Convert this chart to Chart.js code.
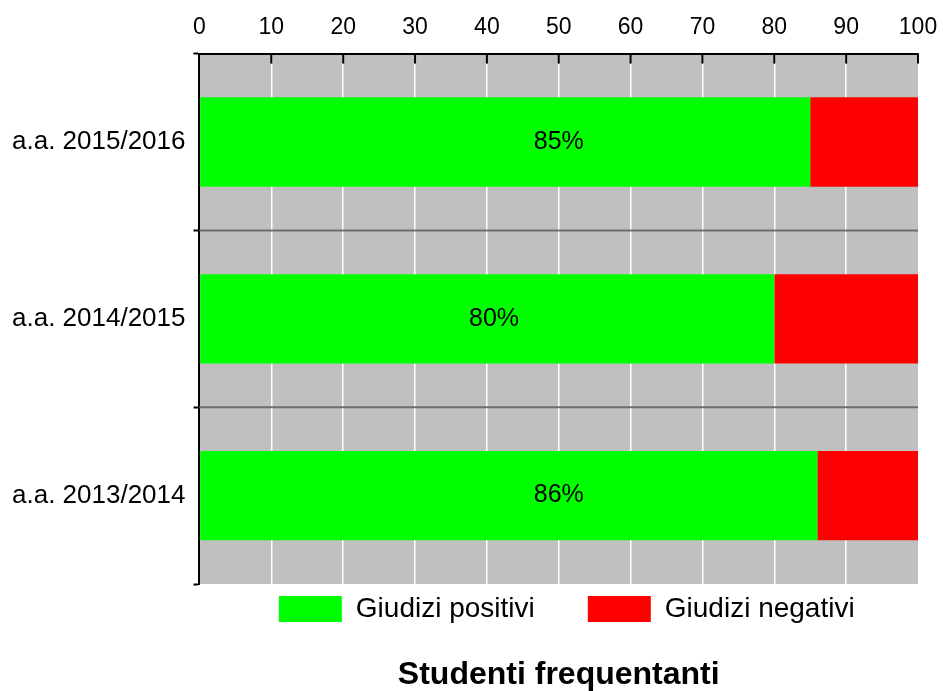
<!DOCTYPE html>
<html>
<head>
<meta charset="utf-8">
<script src="https://cdn.jsdelivr.net/npm/chart.js@4"></script>
<style>
  html, body { margin: 0; padding: 0; background: #ffffff; }
  #wrap { width: 943px; height: 691px; }
</style>
</head>
<body>
<div id="wrap"><canvas id="c"></canvas></div>
<script>
const categories = ['a.a. 2015/2016', 'a.a. 2014/2015', 'a.a. 2013/2014'];
const positivi = [85, 80, 86];
const negativi = [15, 20, 14];
const valueLabels = ['85%', '80%', '86%'];
const seriesNames = ['Giudizi positivi', 'Giudizi negativi'];
const titleText = 'Studenti frequentanti';

const FONT = "'Liberation Sans', Arial, Helvetica, sans-serif";

const plotDecor = {
  id: 'plotDecor',
  afterLayout(chart, args, opts) {
    if (chart.legend) {
      chart.legend.left += opts.legendShift;
      chart.legend.right += opts.legendShift;
    }
  },
  beforeDraw(chart) {
    const a = chart.chartArea, ctx = chart.ctx;
    ctx.save();
    ctx.fillStyle = '#c0c0c0';
    ctx.fillRect(a.left, a.top, a.right - a.left, a.bottom - a.top);
    ctx.restore();
  },
  beforeDatasetsDraw(chart) {
    const a = chart.chartArea, ctx = chart.ctx, y = chart.scales.y;
    ctx.save();
    ctx.strokeStyle = '#6e6e6e';
    ctx.lineWidth = 2;
    for (let i = 0; i < categories.length - 1; i++) {
      const py = (y.getPixelForValue(i) + y.getPixelForValue(i + 1)) / 2;
      ctx.beginPath();
      ctx.moveTo(a.left, py);
      ctx.lineTo(a.right, py);
      ctx.stroke();
    }
    ctx.restore();
  },
  afterDraw(chart, args, opts) {
    const a = chart.chartArea, ctx = chart.ctx, x = chart.scales.x, y = chart.scales.y;
    ctx.save();
    ctx.strokeStyle = '#000';
    ctx.lineWidth = 2;
    x.ticks.forEach(t => {
      if (t.value === 0) return;
      const px = x.getPixelForValue(t.value);
      ctx.beginPath();
      ctx.moveTo(px, a.top);
      ctx.lineTo(px, a.top + 10);
      ctx.stroke();
    });
    ctx.fillStyle = '#000';
    ctx.font = '25px ' + FONT;
    ctx.textAlign = 'center';
    ctx.textBaseline = 'middle';
    valueLabels.forEach((lab, i) => {
      const px = x.getPixelForValue(opts.labelAt[i]);
      const py = y.getPixelForValue(i);
      ctx.fillText(lab, px, py);
    });
    ctx.restore();
  }
};

new Chart(document.getElementById('c'), {
  type: 'bar',
  data: {
    labels: categories,
    datasets: [
      { label: seriesNames[0], data: positivi, backgroundColor: '#00ff00', borderWidth: 0,
        barPercentage: 0.505, categoryPercentage: 1.0 },
      { label: seriesNames[1], data: negativi, backgroundColor: '#ff0000', borderWidth: 0,
        barPercentage: 0.505, categoryPercentage: 1.0 }
    ]
  },
  options: {
    indexAxis: 'y',
    responsive: true,
    maintainAspectRatio: false,
    animation: false,
    layout: { padding: { top: 14, right: 25, left: 4, bottom: 0 } },
    scales: {
      x: {
        position: 'top',
        stacked: true,
        min: 0, max: 100,
        ticks: { stepSize: 10, color: '#000', font: { family: FONT, size: 23 }, padding: 0 },
        grid: {
          drawTicks: true,
          tickLength: 12,
          tickColor: 'rgba(0,0,0,0)',
          lineWidth: 1.5,
          color: (c) => (c.tick && (c.tick.value === 0 || c.tick.value === 100)) ? 'rgba(0,0,0,0)' : '#ffffff'
        },
        border: { color: '#000', width: 2 }
      },
      y: {
        stacked: true,
        offset: true,
        ticks: { color: '#000', font: { family: FONT, size: 26 }, padding: 8 },
        grid: { drawOnChartArea: false, drawTicks: true, tickLength: 6, tickColor: '#000', tickWidth: 2, offset: true },
        border: { color: '#000', width: 2 }
      }
    },
    plugins: {
      plotDecor: { labelAt: [50, 41, 50], legendShift: 8 },
      tooltip: { enabled: false },
      legend: {
        position: 'bottom',
        fullSize: false,
        labels: {
          boxWidth: 63, boxHeight: 26, padding: 11,
          color: '#000',
          font: { family: FONT, size: 28 },
          generateLabels(chart) {
            const items = Chart.defaults.plugins.legend.labels.generateLabels(chart);
            items.forEach((it, i) => { if (i < items.length - 1) it.text = it.text + '\u2003\u2002'; });
            return items;
          }
        }
      },
      title: {
        display: true,
        text: titleText,
        position: 'bottom',
        fullSize: false,
        color: '#000',
        font: { family: FONT, size: 32, weight: 'bold', lineHeight: 1.0 },
        padding: { top: 26, bottom: 0 }
      }
    }
  },
  plugins: [plotDecor]
});
</script>
</body>
</html>
